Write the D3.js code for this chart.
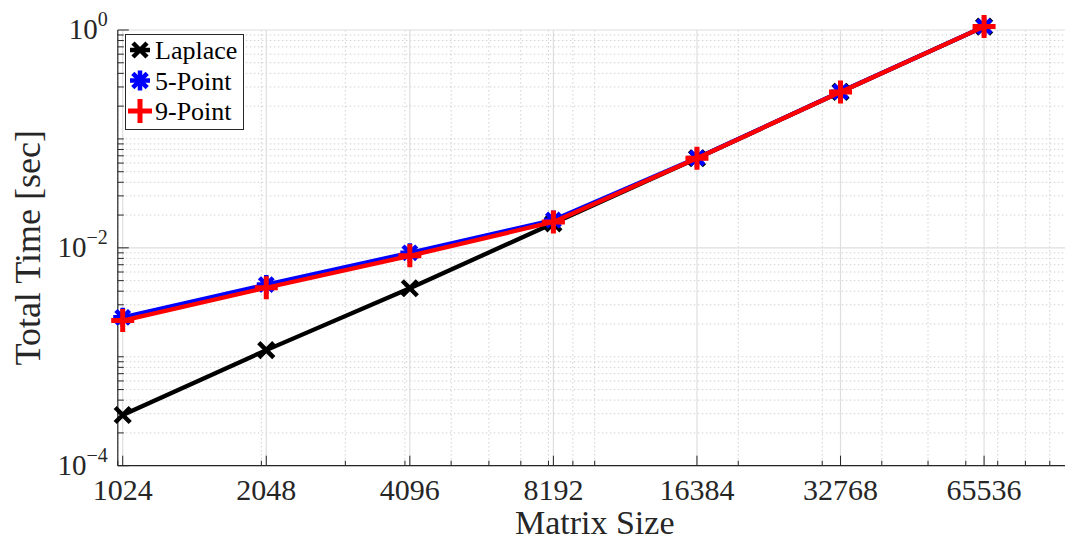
<!DOCTYPE html>
<html>
<head>
<meta charset="utf-8">
<script src="https://cdn.jsdelivr.net/npm/d3@7"></script>
<style>
  body { margin: 0; background: #fff; }
  svg { display: block; font-family: "Liberation Serif", "DejaVu Serif", serif; }
</style>
</head>
<body>
<div id="chart"></div>
<script>
// matrix sizes (x axis) and timing series (seconds)
const sizes = [1024, 2048, 4096, 8192, 16384, 32768, 65536];
const laplace = [2.92e-4, 1.15e-3, 4.26e-3, 0.0168, 0.0665, 0.270, 1.074];
const fivePoint = [2.30e-3, 4.60e-3, 9.0e-3, 0.0180, 0.0668, 0.271, 1.074];
const ninePoint = [2.15e-3, 4.30e-3, 8.45e-3, 0.0173, 0.0665, 0.270, 1.074];
const xTicks = [1024, 2048, 4096, 8192, 16384, 32768, 65536];
const yTicks = [1e-4, 1e-2, 1e0];
const yTickExp = ["\u22124", "\u22122", "0"];

const W = 1065, H = 544;
const margin = { top: 30, left: 117.8, bottom: 465.7, right: 1071.6 };

const svg = d3.select('#chart').append('svg')
    .attr('width', W)
    .attr('height', H);

const x = d3.scaleLog().base(2)
    .domain([1000, 100000])
    .range([margin.left, margin.right]);

const y = d3.scaleLog()
    .domain([1e-4, 1e0])
    .range([margin.bottom, margin.top]);

// minor ticks (base 10 multiples)
const xMinor = [];
[1000, 10000].forEach(d => { for (let k = 1; k <= 9; k++) xMinor.push(d * k); });
xMinor.push(100000);
const yMinor = [];
[1e-4, 1e-3, 1e-2, 1e-1].forEach(d => { for (let k = 1; k <= 9; k++) yMinor.push(d * k); });
const yMinorOnly = yMinor.filter(v => !yTicks.some(t => Math.abs(t - v) / t < 1e-6));

const grid = svg.append('g');

// minor grid, dotted
grid.selectAll('.xmin').data(xMinor).enter().append('line')
    .attr('x1', d => x(d)).attr('x2', d => x(d))
    .attr('y1', margin.top).attr('y2', margin.bottom)
    .attr('stroke', '#d0d0d0').attr('stroke-width', 1)
    .attr('stroke-dasharray', '1.5,2.5');
grid.selectAll('.ymin').data(yMinorOnly).enter().append('line')
    .attr('x1', margin.left).attr('x2', margin.right)
    .attr('y1', d => y(d)).attr('y2', d => y(d))
    .attr('stroke', '#d0d0d0').attr('stroke-width', 1)
    .attr('stroke-dasharray', '1.5,2.5');

// major grid, solid
grid.selectAll('.xmaj').data(xTicks).enter().append('line')
    .attr('x1', d => x(d)).attr('x2', d => x(d))
    .attr('y1', margin.top).attr('y2', margin.bottom)
    .attr('stroke', '#dedede').attr('stroke-width', 1.2);
grid.selectAll('.ymaj').data(yTicks).enter().append('line')
    .attr('x1', margin.left).attr('x2', margin.right)
    .attr('y1', d => y(d)).attr('y2', d => y(d))
    .attr('stroke', '#dedede').attr('stroke-width', 1.2);

// axes (MATLAB style: ticks pointing inward)
const axisColor = '#262626';
const axes = svg.append('g');
axes.append('line')
    .attr('x1', margin.left).attr('x2', margin.right)
    .attr('y1', margin.bottom).attr('y2', margin.bottom)
    .attr('stroke', axisColor).attr('stroke-width', 1.2);
axes.append('line')
    .attr('x1', margin.left).attr('x2', margin.left)
    .attr('y1', margin.top).attr('y2', margin.bottom)
    .attr('stroke', axisColor).attr('stroke-width', 1.2);

axes.selectAll('.xtm').data(xMinor).enter().append('line')
    .attr('x1', d => x(d)).attr('x2', d => x(d))
    .attr('y1', margin.bottom).attr('y2', margin.bottom - 5)
    .attr('stroke', axisColor).attr('stroke-width', 1);
axes.selectAll('.xtM').data(xTicks).enter().append('line')
    .attr('x1', d => x(d)).attr('x2', d => x(d))
    .attr('y1', margin.bottom).attr('y2', margin.bottom - 10)
    .attr('stroke', axisColor).attr('stroke-width', 1);
axes.selectAll('.ytm').data(yMinorOnly).enter().append('line')
    .attr('x1', margin.left).attr('x2', margin.left + 6)
    .attr('y1', d => y(d)).attr('y2', d => y(d))
    .attr('stroke', axisColor).attr('stroke-width', 1);
axes.selectAll('.ytM').data(yTicks).enter().append('line')
    .attr('x1', margin.left).attr('x2', margin.left + 11)
    .attr('y1', d => y(d)).attr('y2', d => y(d))
    .attr('stroke', axisColor).attr('stroke-width', 1);

// tick labels
axes.selectAll('.xl').data(xTicks).enter().append('text')
    .attr('x', d => x(d)).attr('y', margin.bottom + 34)
    .attr('text-anchor', 'middle')
    .attr('font-size', 30).attr('fill', axisColor)
    .text(d => d);

const yl = axes.selectAll('.yl').data(yTicks).enter().append('text')
    .attr('x', margin.left - 10).attr('y', d => y(d) + 9)
    .attr('text-anchor', 'end')
    .attr('font-size', 29).attr('fill', axisColor);
yl.append('tspan').text('10');
yl.append('tspan').attr('dy', -13).attr('font-size', 20).text((d, i) => yTickExp[i]);

// axis titles
svg.append('text')
    .attr('x', (margin.left + margin.right) / 2).attr('y', 534)
    .attr('text-anchor', 'middle')
    .attr('font-size', 34).attr('fill', axisColor)
    .text('Matrix Size');
svg.append('text')
    .attr('transform', `translate(40, ${(margin.top + margin.bottom) / 2}) rotate(-90)`)
    .attr('text-anchor', 'middle')
    .attr('font-size', 36).attr('fill', axisColor)
    .text('Total Time [sec]');

// marker helpers
function drawX(g, cx, cy, r, color, w) {
    g.append('path')
        .attr('d', `M${cx - r},${cy - r}L${cx + r},${cy + r}M${cx - r},${cy + r}L${cx + r},${cy - r}`)
        .attr('stroke', color).attr('stroke-width', w).attr('fill', 'none');
}
function drawPlus(g, cx, cy, r, color, w) {
    g.append('path')
        .attr('d', `M${cx - r},${cy}L${cx + r},${cy}M${cx},${cy - r}L${cx},${cy + r}`)
        .attr('stroke', color).attr('stroke-width', w).attr('fill', 'none');
}
function drawStar(g, cx, cy, r, color, w) {
    drawPlus(g, cx, cy, r, color, w);
    drawX(g, cx, cy, r * 0.72, color, w);
}

const line = d3.line()
    .x(d => x(d[0]))
    .y(d => y(d[1]));

const plot = svg.append('g');
const series = [
    { values: laplace, color: '#000000', marker: (g, cx, cy) => drawX(g, cx, cy, 7.5, '#000', 4.5) },
    { values: fivePoint, color: '#0000ff', marker: (g, cx, cy) => drawStar(g, cx, cy, 9.5, '#0000ff', 4.5) },
    { values: ninePoint, color: '#ff0000', marker: (g, cx, cy) => drawPlus(g, cx, cy, 11.5, '#ff0000', 5) }
];

series.forEach(s => {
    const pts = sizes.map((d, i) => [d, s.values[i]]);
    plot.append('path')
        .datum(pts)
        .attr('d', line)
        .attr('fill', 'none')
        .attr('stroke', s.color)
        .attr('stroke-width', 4.3)
        .attr('stroke-linejoin', 'round');
    pts.forEach(p => s.marker(plot, x(p[0]), y(p[1])));
});

// legend
const legend = svg.append('g');
legend.append('rect')
    .attr('x', 125.5).attr('y', 34.5)
    .attr('width', 118).attr('height', 95)
    .attr('fill', '#fff').attr('stroke', axisColor).attr('stroke-width', 1);
const legendItems = [
    { name: 'Laplace', draw: (g, cx, cy) => { drawX(g, cx, cy, 7, '#000', 4.5); g.append('path').attr('d', `M${cx - 10},${cy}L${cx + 10},${cy}`).attr('stroke', '#000').attr('stroke-width', 4.5); } },
    { name: '5-Point', draw: (g, cx, cy) => drawStar(g, cx, cy, 10, '#0000ff', 4.5) },
    { name: '9-Point', draw: (g, cx, cy) => drawPlus(g, cx, cy, 12, '#ff0000', 5) }
];
legendItems.forEach((item, i) => {
    const cy = 50 + i * 30.5;
    item.draw(legend, 140, cy);
    legend.append('text')
        .attr('x', 155).attr('y', cy + 9)
        .attr('font-size', 26).attr('fill', '#000')
        .text(item.name);
});
</script>
</body>
</html>
